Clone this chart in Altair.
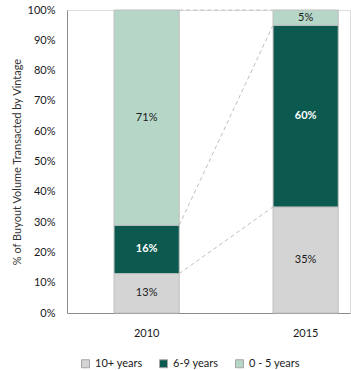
import altair as alt
import pandas as pd

years = ["2010", "2015"]
vintages = ["10+ years", "6-9 years", "0 - 5 years"]
share_10plus = [13, 35]
share_6to9 = [16, 60]
share_0to5 = [71, 5]
colors = ["#D4D4D4", "#0C5A4F", "#B6D7C8"]

shares = [share_10plus, share_6to9, share_0to5]

rows = []
for yi, yr in enumerate(years):
    cum = 0
    for vi, v in enumerate(vintages):
        val = shares[vi][yi]
        rows.append({"year": yr, "vintage": v, "order": vi, "start": cum,
                     "end": cum + val, "mid": cum + val / 2, "label": f"{val}%"})
        cum += val
df = pd.DataFrame(rows)

conn = []
for v in vintages:
    a = df[(df.year == years[0]) & (df.vintage == v)].iloc[0]
    b = df[(df.year == years[1]) & (df.vintage == v)].iloc[0]
    conn.append({"from_year": years[0], "to_year": years[1], "y1": a.end, "y2": b.end})
conn_df = pd.DataFrame(conn)

FONT = "Lato"

xscale = alt.Scale(domain=years, paddingInner=0.59, paddingOuter=0.185, align=0.8)
yscale = alt.Scale(domain=[0, 100])

x_axis = alt.Axis(title=None, labelAngle=0, ticks=False, labelPadding=14,
                  domainColor="#8C8C8C", labelFont=FONT, labelFontSize=11,
                  labelColor="#1a1a1a")
y_axis = alt.Axis(title="% of Buyout Volume Transacted by Vintage",
                  values=list(range(0, 101, 10)), labelOverlap=False,
                  labelExpr="datum.value + '%'", ticks=False, grid=False,
                  labelPadding=12, domainColor="#8C8C8C",
                  labelFont=FONT, labelFontSize=11, labelColor="#1a1a1a",
                  titleFont=FONT, titleFontSize=11, titleFontWeight="normal",
                  titleColor="#333333", titlePadding=5)

bars = alt.Chart(df).mark_bar(stroke="#BFBFBF", strokeWidth=1).encode(
    x=alt.X("year:N", scale=xscale, sort=years, axis=x_axis),
    y=alt.Y("start:Q", scale=yscale, axis=y_axis),
    y2="end:Q",
    color=alt.Color("vintage:N", sort=vintages,
                    scale=alt.Scale(domain=vintages, range=colors),
                    legend=alt.Legend(title=None, orient="none", direction="horizontal",
                                      legendX=13, legendY=348, symbolType="square",
                                      symbolSize=64, symbolStrokeColor="#A6A6A6",
                                      symbolStrokeWidth=1, labelFont=FONT,
                                      labelFontSize=11, labelColor="#1a1a1a",
                                      columnPadding=14, labelOffset=4)),
)

connectors = alt.Chart(conn_df).mark_rule(color="#BFBFBF", strokeWidth=1,
                                           strokeDash=[4, 3]).encode(
    x=alt.X("from_year:N", scale=xscale, sort=years, bandPosition=1, axis=x_axis),
    x2=alt.X2("to_year:N", bandPosition=0),
    y=alt.Y("y1:Q", scale=yscale, axis=y_axis),
    y2="y2:Q",
)

dark_text = alt.Chart(df).transform_filter(
    alt.datum.vintage != "6-9 years").mark_text(
    font=FONT, fontSize=11, color="#1a1a1a").encode(
    x=alt.X("year:N", scale=xscale, sort=years, axis=x_axis),
    y=alt.Y("mid:Q", scale=yscale, axis=y_axis),
    text="label:N",
)
light_text = alt.Chart(df).transform_filter(
    alt.datum.vintage == "6-9 years").mark_text(
    font=FONT, fontSize=11, color="white", fontWeight="bold").encode(
    x=alt.X("year:N", scale=xscale, sort=years, axis=x_axis),
    y=alt.Y("mid:Q", scale=yscale, axis=y_axis),
    text="label:N",
)

chart = alt.layer(bars, connectors, dark_text, light_text).properties(
    width=283, height=303,
    autosize=alt.AutoSizeParams(type="none"),
    padding={"left": 67, "top": 10, "right": 1, "bottom": 57},
).configure_view(stroke=None).configure(background="white")

chart.save("out.html", embed_options={"renderer": "svg", "actions": False})
